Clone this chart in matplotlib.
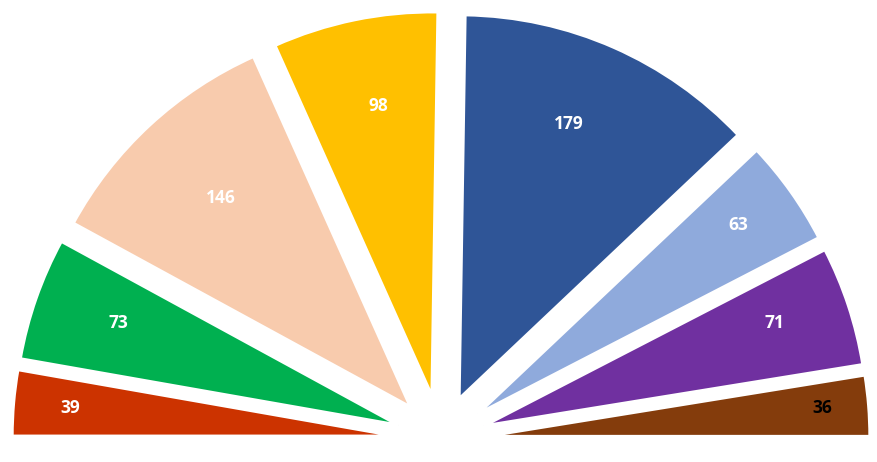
import matplotlib.pyplot as plt
import numpy as np

# seats per group, left to right
seats = [39, 73, 146, 98, 179, 63, 71, 36]
colors = ['#CC3300', '#00B050', '#F8CBAD', '#FFC000', '#2F5597', '#8FAADC', '#7030A0', '#843C0C']
label_colors = ['white'] * 7 + ['black']
# label placement: fraction of radius and small angle shift (deg)
label_dist = [0.853, 0.777, 0.734, 0.767, 0.771, 0.837, 0.802, 0.878]
label_shift = [0.1, -0.7, -0.6, -1.2, 1.9, 0.6, 1.2, 0.2]

W, H = 878, 462
fig = plt.figure(figsize=(W / 100, H / 100), dpi=100)
ax = fig.add_axes([0, 0, 1, 1])

total = sum(seats)
vals = seats + [total]  # hidden lower half
cx, cy, R = 441, H - 440, 384
# pie explode is in data units here (pixels)
explode = [45] * len(seats) + [0]

wedges, _ = ax.pie(vals, colors=colors + ['white'], explode=explode, startangle=180,
                   counterclock=False, radius=R, center=(cx, cy),
                   wedgeprops=dict(edgecolor='white', linewidth=2.2))
wedges[-1].set_visible(False)

for w, s, c, f, sh in zip(wedges[:-1], seats, label_colors, label_dist, label_shift):
    mid = np.deg2rad((w.theta1 + w.theta2) / 2 + sh)
    x0, y0 = w.center
    ax.text(x0 + f * R * np.cos(mid), y0 + f * R * np.sin(mid), str(s),
            ha='center', va='center', color=c, fontsize=12.5, fontweight='bold',
            family='Open Sans')

ax.set_xlim(0, W)
ax.set_ylim(0, H)
ax.set_aspect('equal')
ax.axis('off')
fig.savefig('out.png', dpi=100, facecolor='white')
